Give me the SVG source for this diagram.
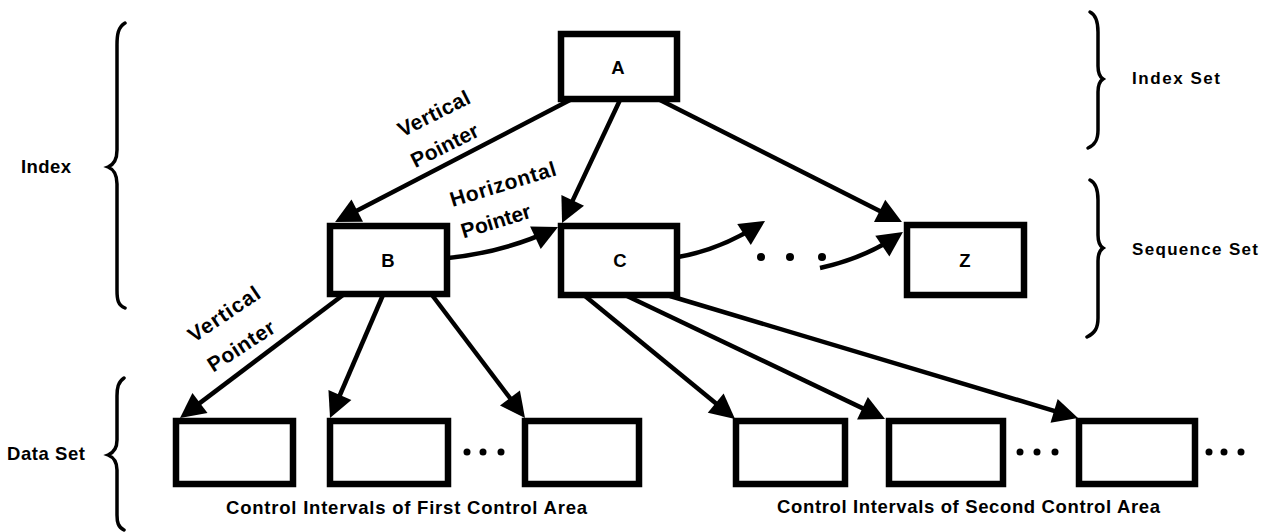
<svg xmlns="http://www.w3.org/2000/svg" width="1261" height="532" viewBox="0 0 1261 532">
<style>
.box{fill:#fff;stroke:#000;stroke-width:6.5}
.lbl{font-family:"Liberation Sans",Arial,sans-serif;font-weight:bold;font-size:18.5px;fill:#000}
.sm{font-size:17px}
.ptr{font-size:21px}
.edge{fill:none;stroke:#000;stroke-width:4.5}
.brace{fill:none;stroke:#000;stroke-width:3.5;stroke-linecap:round}
.dot{fill:#000}
</style>
<defs>
<marker id="ah" markerUnits="userSpaceOnUse" orient="auto" refX="-6" refY="0" overflow="visible">
<path d="M-25,-12.5 L0,0 L-25,12.5 z" fill="#000"/>
</marker>
</defs>
<rect width="1261" height="532" fill="#fff"/>
<g id="braces">
<path class="brace" d="M125,23 C118,27 117,35 117,45 L117,150 C117,160 113,165 108,167 C113,169 117,174 117,184 L117,290 C117,300 118,305 125,308"/>
<path class="brace" d="M124,378 C118,382 117,388 117,396 L117,440 C117,449 113,453 108,455 C113,457 117,461 117,470 L117,515 C117,522 118,527 124,530"/>
<path class="brace" d="M1090,12 C1096,15 1098,22 1098,32 L1098,66 C1098,74 1100,77 1103,79 C1100,81 1098,84 1098,92 L1098,130 C1098,140 1095,145 1088,148"/>
<path class="brace" d="M1090,180 C1096,183 1098,190 1098,200 L1098,235 C1098,243 1100,246 1103,248 C1100,250 1098,253 1098,261 L1098,318 C1098,328 1095,333 1087,337"/>
</g>
<g id="labels">
<text class="lbl" x="21" y="173" textLength="50">Index</text>
<text class="lbl" x="7" y="460" textLength="78">Data Set</text>
<text class="lbl sm" x="1132" y="84" textLength="88">Index Set</text>
<text class="lbl sm" x="1132" y="255" textLength="126">Sequence Set</text>
<text class="lbl" x="226" y="514" textLength="361">Control Intervals of First Control Area</text>
<text class="lbl" x="777" y="513" textLength="383">Control Intervals of Second Control Area</text>
</g>
<g id="node-A"><rect class="box" x="561" y="34" width="116" height="65"/><text class="lbl" x="618" y="74" text-anchor="middle">A</text></g>
<g id="node-B"><rect class="box" x="330" y="226" width="117" height="68"/><text class="lbl" x="388" y="267" text-anchor="middle">B</text></g>
<g id="node-C"><rect class="box" x="561" y="226" width="116" height="69"/><text class="lbl" x="620" y="267" text-anchor="middle">C</text></g>
<g id="node-Z"><rect class="box" x="907" y="225" width="117" height="70"/><text class="lbl" x="965" y="267" text-anchor="middle">Z</text></g>
<g id="node-ci1"><rect class="box" x="176" y="421" width="117" height="63"/></g>
<g id="node-ci2"><rect class="box" x="330" y="421" width="118" height="63"/></g>
<g id="node-ci3"><rect class="box" x="525" y="421" width="114" height="63"/></g>
<g id="node-ci4"><rect class="box" x="736" y="421" width="109" height="63"/></g>
<g id="node-ci5"><rect class="box" x="889" y="421" width="114" height="63"/></g>
<g id="node-ci6"><rect class="box" x="1079" y="421" width="116" height="63"/></g>
<g id="ellipses">
<circle class="dot" cx="761" cy="257" r="4"/><circle class="dot" cx="790" cy="257" r="4"/><circle class="dot" cx="822" cy="257" r="4"/>
<circle class="dot" cx="467" cy="452" r="3.5"/><circle class="dot" cx="483" cy="452" r="3.5"/><circle class="dot" cx="501" cy="452" r="3.5"/>
<circle class="dot" cx="1020" cy="452" r="3.5"/><circle class="dot" cx="1037" cy="452" r="3.5"/><circle class="dot" cx="1055" cy="452" r="3.5"/>
<circle class="dot" cx="1209" cy="452" r="3.5"/><circle class="dot" cx="1224" cy="452" r="3.5"/><circle class="dot" cx="1241" cy="452" r="3.5"/>
</g>
<g id="connectors">
<path class="edge" marker-end="url(#ah)" d="M570,100 L340.4,219.3"/>
<path class="edge" marker-end="url(#ah)" d="M620,100 L564.6,217.6"/>
<path class="edge" marker-end="url(#ah)" d="M660,100 L896.6,219.4"/>
<path class="edge" marker-end="url(#ah)" d="M448,258 Q505,252 552.6,229.6"/>
<path class="edge" marker-end="url(#ah)" d="M678,257 Q720,250 760,224.2"/>
<path class="edge" marker-end="url(#ah)" d="M820,268 Q865,258 898,235.4"/>
<path class="edge" marker-end="url(#ah)" d="M343,295 L184.8,414.4"/>
<path class="edge" marker-end="url(#ah)" d="M383,295 L332.4,412.5"/>
<path class="edge" marker-end="url(#ah)" d="M432,295 L521.4,413.2"/>
<path class="edge" marker-end="url(#ah)" d="M585,296 L730.4,415.2"/>
<path class="edge" marker-end="url(#ah)" d="M627,296 L879.6,416.4"/>
<path class="edge" marker-end="url(#ah)" d="M670,296 L1072.3,416.3"/>
</g>
<g id="edge-labels">
<text class="lbl ptr" transform="translate(437,120) rotate(-26.6)" text-anchor="middle" textLength="78">Vertical</text>
<text class="lbl ptr" transform="translate(448,152) rotate(-26.6)" text-anchor="middle" textLength="73">Pointer</text>
<text class="lbl ptr" transform="translate(505,191) rotate(-17)" text-anchor="middle" textLength="110">Horizontal</text>
<text class="lbl ptr" transform="translate(498,228) rotate(-17)" text-anchor="middle" textLength="72">Pointer</text>
<text class="lbl ptr" transform="translate(228,320) rotate(-34)" text-anchor="middle" textLength="82">Vertical</text>
<text class="lbl ptr" transform="translate(245,352) rotate(-33)" text-anchor="middle" textLength="76">Pointer</text>
</g>
</svg>
